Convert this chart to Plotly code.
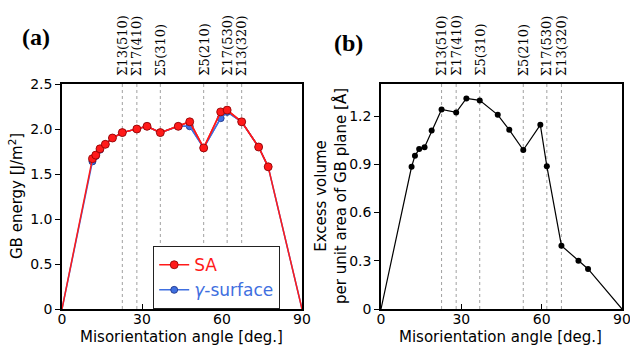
import plotly.graph_objects as go

# ---- data ----
angles = [0, 11.42, 12.68, 14.25, 16.26, 18.92, 22.62, 28.07, 31.89, 36.87,
          43.60, 47.9, 53.13, 59.5, 61.93, 67.38, 73.74, 77.32, 90]
energy_sa = [0, 1.67, 1.71, 1.78, 1.83, 1.90, 1.96, 2.00, 2.03, 1.96,
             2.03, 2.08, 1.79, 2.19, 2.21, 2.08, 1.80, 1.58, 0]
energy_gamma = [0, 1.64, 1.70, 1.77, 1.83, 1.90, 1.96, 2.00, 2.03, 1.96,
                2.03, 2.03, 1.79, 2.12, 2.19, 2.08, 1.80, 1.58, 0]
excess_vol = [0, 0.885, 0.953, 0.995, 1.007, 1.11, 1.242, 1.223, 1.31, 1.298,
              1.208, 1.115, 0.989, 1.146, 0.889, 0.394, 0.30, 0.249, 0]

sigma_angles = [22.62, 28.07, 36.87, 53.13, 61.93, 67.38]
sigma_labels = ["Σ13(510)", "Σ17(410)", "Σ5(310)", "Σ5(210)", "Σ17(530)", "Σ13(320)"]

x_ticks = [0, 30, 60, 90]
y1_ticks = [0, 0.5, 1.0, 1.5, 2.0, 2.5]
y1_ticktext = ["0", "0.5", "1.0", "1.5", "2.0", "2.5"]
y2_ticks = [0, 0.3, 0.6, 0.9, 1.2]
y2_ticktext = ["0", "0.3", "0.6", "0.9", "1.2"]

W, H = 630, 346
RED = "#ff1a1a"
BLUE = "#3f6fe0"

fig = go.Figure()

fig.add_trace(go.Scatter(
    x=angles[1:-1], y=energy_gamma[1:-1], mode="lines+markers",
    name="<span style='color:#3f6fe0'><i>γ</i>-surface</span>",
    line=dict(color=BLUE, width=1.5),
    marker=dict(color=BLUE, size=7, line=dict(color="#1a2f80", width=0.8)),
    xaxis="x", yaxis="y", showlegend=True))
fig.add_trace(go.Scatter(
    x=angles, y=energy_gamma, mode="lines",
    line=dict(color=BLUE, width=1.5), xaxis="x", yaxis="y", showlegend=False))
fig.add_trace(go.Scatter(
    x=angles, y=energy_sa, mode="lines",
    line=dict(color=RED, width=1.5), xaxis="x", yaxis="y", showlegend=False))
fig.add_trace(go.Scatter(
    x=angles[1:-1], y=energy_sa[1:-1], mode="lines+markers",
    name="<span style='color:#ff1a1a'>SA</span>",
    line=dict(color=RED, width=1.5),
    marker=dict(color=RED, size=8, line=dict(color="#8a0000", width=0.8)),
    xaxis="x", yaxis="y", showlegend=True))

fig.add_trace(go.Scatter(
    x=angles, y=excess_vol, mode="lines",
    line=dict(color="black", width=1.2), xaxis="x2", yaxis="y2", showlegend=False))
fig.add_trace(go.Scatter(
    x=angles[1:-1], y=excess_vol[1:-1], mode="markers",
    marker=dict(color="black", size=6), xaxis="x2", yaxis="y2", showlegend=False))

x1d = [62 / W, 302 / W]
x2d = [381 / W, 622 / W]
yd = [(H - 309) / H, (H - 84) / H]

axis_common = dict(showgrid=False, zeroline=False, showline=True, linecolor="black",
                   linewidth=1.5, mirror=True, ticklen=5, tickcolor="black",
                   automargin=False, ticklabeloverflow="allow",
                   tickfont=dict(family="DejaVu Sans", size=14, color="black"))

fig.update_layout(
    width=W, height=H, margin=dict(l=0, r=0, t=0, b=0, autoexpand=False),
    paper_bgcolor="white", plot_bgcolor="white",
    xaxis=dict(domain=x1d, range=[0, 90], tickvals=x_ticks, ticks="inside",
               ticklabelstandoff=-4, anchor="y", **axis_common),
    yaxis=dict(domain=yd, range=[0, 2.5], tickvals=y1_ticks, ticktext=y1_ticktext,
               ticks="outside", anchor="x", **axis_common),
    xaxis2=dict(domain=x2d, range=[0, 90], tickvals=x_ticks, ticks="inside",
                ticklabelstandoff=-4, anchor="y2", **axis_common),
    yaxis2=dict(domain=yd, range=[0, 1.4], tickvals=y2_ticks, ticktext=y2_ticktext,
                ticks="outside", anchor="x2", **axis_common),
    legend=dict(x=153 / W, y=1 - 246 / H, xanchor="left", yanchor="top",
                bordercolor="#222222", borderwidth=1.2, bgcolor="white",
                traceorder="reversed", tracegroupgap=0,
                font=dict(family="DejaVu Sans", size=17, color="black"),
                itemwidth=30),
    showlegend=True,
)

shapes = []
annotations = []
for xa, ya in (("x", "y"), ("x2", "y2")):
    for a in sigma_angles:
        shapes.append(dict(type="line", xref=xa, yref=f"{ya} domain", x0=a, x1=a,
                           y0=0, y1=1, line=dict(color="#a0a0a0", width=1, dash="dot"),
                           layer="below"))
    for a, lab in zip(sigma_angles, sigma_labels):
        annotations.append(dict(x=a, y=1 - 78 / H, xref=xa, yref="paper", text=lab,
                                textangle=-90, showarrow=False, xanchor="center",
                                yanchor="bottom",
                                font=dict(family="DejaVu Serif", size=13, color="black")))

annotations += [
    dict(x=20 / W, y=1 - 37 / H, xref="paper", yref="paper", text="<b>(a)</b>",
         showarrow=False, xanchor="left", yanchor="middle",
         font=dict(family="Liberation Serif", size=24, color="black")),
    dict(x=332 / W, y=1 - 43 / H, xref="paper", yref="paper", text="<b>(b)</b>",
         showarrow=False, xanchor="left", yanchor="middle",
         font=dict(family="Liberation Serif", size=24, color="black")),
    dict(x=182 / W, y=1 - 337 / H, xref="paper", yref="paper",
         text="Misorientation angle [deg.]", showarrow=False,
         xanchor="center", yanchor="middle",
         font=dict(family="DejaVu Sans", size=15, color="black")),
    dict(x=501 / W, y=1 - 337 / H, xref="paper", yref="paper",
         text="Misorientation angle [deg.]", showarrow=False,
         xanchor="center", yanchor="middle",
         font=dict(family="DejaVu Sans", size=15, color="black")),
    dict(x=16 / W, y=1 - 196 / H, xref="paper", yref="paper",
         text="GB energy [J/m<sup>2</sup>]", showarrow=False, textangle=-90,
         xanchor="center", yanchor="middle",
         font=dict(family="DejaVu Sans", size=15, color="black")),
    dict(x=331 / W, y=1 - 196 / H, xref="paper", yref="paper",
         text="Excess volume<br>per unit area of GB plane [Å]", showarrow=False,
         textangle=-90, xanchor="center", yanchor="middle",
         font=dict(family="DejaVu Sans", size=15, color="black")),
]

fig.update_layout(shapes=shapes, annotations=annotations)
fig.write_html("out.html", config={"displayModeBar": False},
               post_script="document.body.style.margin='0px';document.body.style.padding='0px';document.body.style.overflow='hidden';")
